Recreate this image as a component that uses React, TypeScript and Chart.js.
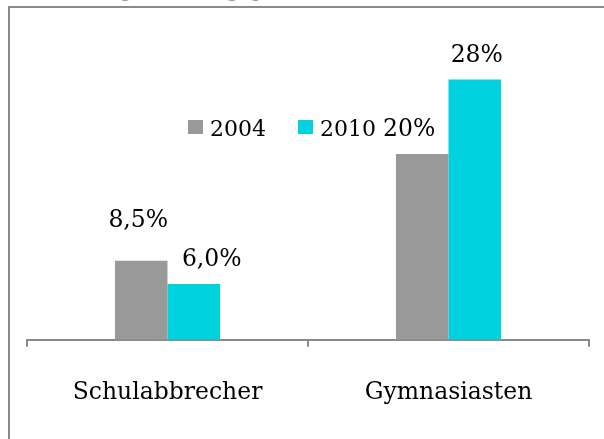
import React, { useEffect, useRef } from "react";
import { Chart, registerables } from "chart.js";

Chart.register(...registerables);

// ---- data ----
const categories = ["Schulabbrecher", "Gymnasiasten"];
const seriesNames = ["2004", "2010"];
const values2004 = [8.5, 20];
const values2010 = [6.0, 28];
const valueLabels2004 = ["8,5%", "20%"];
const valueLabels2010 = ["6,0%", "28%"];
const headerText = "Anteil, Anlage Bildung, Jahr";

// ---- styles ----
const FONT = "'DejaVu Serif', serif";
const seriesColors = ["#999999", "#00D2E0"];
const axisColor = "#8a8a8a";
// per-label placement tweaks (px): [series][category]
const labelShift = [
  [{ dx: -3, dy: 34 }, { dx: -13, dy: 18 }],
  [{ dx: 18, dy: 18 }, { dx: 2, dy: 18 }],
];

const valueLabelPlugin = {
  id: "valueLabels",
  afterDatasetsDraw(chart: any) {
    const ctx = chart.ctx;
    const all = [valueLabels2004, valueLabels2010];
    ctx.save();
    ctx.font = `23.5px ${FONT}`;
    ctx.fillStyle = "#000";
    ctx.textAlign = "center";
    ctx.textBaseline = "alphabetic";
    chart.data.datasets.forEach((_: any, di: number) => {
      const meta = chart.getDatasetMeta(di);
      meta.data.forEach((bar: any, i: number) => {
        const s = labelShift[di][i];
        ctx.fillText(all[di][i], bar.x + s.dx, bar.y - s.dy);
      });
    });
    ctx.restore();
  },
};

const legendPlugin = {
  id: "customLegend",
  afterDraw(chart: any) {
    const ctx = chart.ctx;
    ctx.save();
    ctx.font = `22px ${FONT}`;
    ctx.textBaseline = "alphabetic";
    ctx.textAlign = "left";
    let x = 188;
    const boxTop = 120;
    const baseline = 136;
    chart.data.datasets.forEach((ds: any) => {
      ctx.fillStyle = ds.backgroundColor;
      ctx.fillRect(x, boxTop, 15, 14);
      x += 15 + 7;
      ctx.fillStyle = "#000";
      ctx.fillText(ds.label, x, baseline);
      x += ctx.measureText(ds.label).width + 32;
    });
    ctx.restore();
  },
};

export default function App() {
  const ref = useRef<HTMLCanvasElement>(null);
  useEffect(() => {
    if (!ref.current) return;
    const chart = new Chart(ref.current, {
      type: "bar",
      data: {
        labels: categories,
        datasets: [
          { label: seriesNames[0], data: values2004, backgroundColor: seriesColors[0], borderWidth: 0 },
          { label: seriesNames[1], data: values2010, backgroundColor: seriesColors[1], borderWidth: 0 },
        ],
      },
      options: {
        animation: false,
        responsive: false,
        maintainAspectRatio: false,
        layout: { padding: { left: 27, right: 15, top: 61, bottom: 0 } },
        plugins: { legend: { display: false }, tooltip: { enabled: false }, title: { display: false } },
        datasets: { bar: { categoryPercentage: 0.374, barPercentage: 1 } },
        scales: {
          x: {
            grid: {
              display: true,
              drawOnChartArea: false,
              drawTicks: true,
              tickLength: 7,
              color: axisColor,
              lineWidth: 2,
              offset: true,
            },
            border: { display: true, color: axisColor, width: 2 },
            ticks: { font: { family: FONT, size: 23.5 }, color: "#000", padding: 32 },
          },
          y: { display: false, min: 0, max: 30 },
        },
      },
      plugins: [valueLabelPlugin, legendPlugin],
    });
    return () => chart.destroy();
  }, []);

  return (
    <div style={{ position: "fixed", left: 0, top: 0, width: 604, height: 439, overflow: "hidden", background: "#fff" }}>
      <div
        style={{
          position: "absolute",
          left: -11,
          top: -22.5,
          font: `22px ${FONT}`,
          lineHeight: "22px",
          color: "#9a9a9a",
          whiteSpace: "nowrap",
        }}
      >
        {headerText}
      </div>
      <div
        style={{
          position: "absolute",
          left: 8,
          top: 6,
          width: 800,
          height: 800,
          border: `2px solid ${axisColor}`,
          boxSizing: "border-box",
        }}
      />
      <canvas ref={ref} width={604} height={439} style={{ position: "absolute", left: 0, top: 0 }} />
    </div>
  );
}
